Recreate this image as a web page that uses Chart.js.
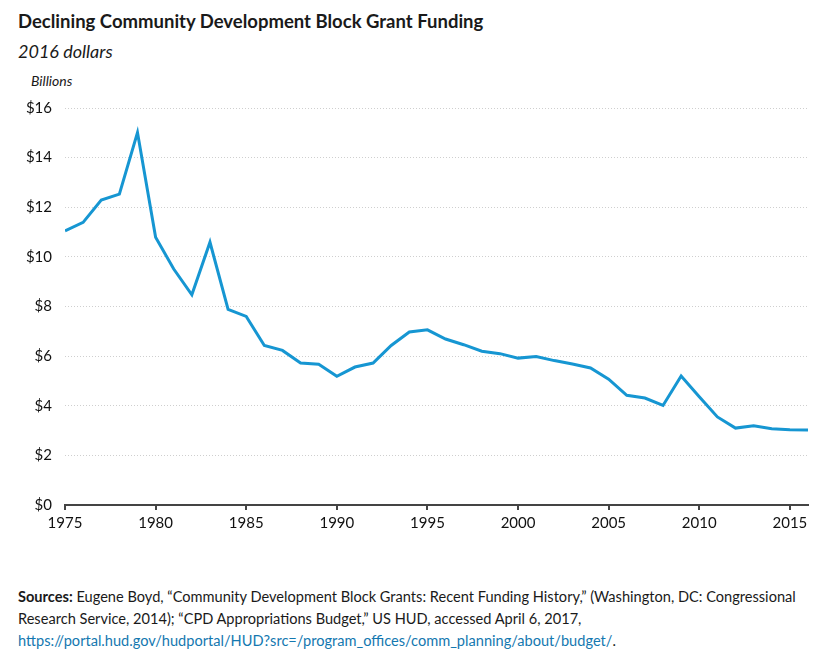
<!DOCTYPE html>
<html>
<head>
<meta charset="utf-8">
<script src="https://cdn.jsdelivr.net/npm/chart.js@4"></script>
<style>
  body { margin: 0; background: #fff; font-family: Lato, "Open Sans", sans-serif; color: #1a1a1a; }
  #wrap { position: relative; width: 840px; height: 666px; }
  .title { position: absolute; left: 18px; top: 10px; font-size: 18.5px; font-weight: bold; }
  .sub { position: absolute; left: 18px; top: 40px; font-size: 18px; font-style: italic; }
  .unit { position: absolute; left: 31px; top: 72px; font-size: 14px; font-style: italic; }
  #box { position: absolute; left: 0; top: 86px; width: 840px; height: 464px; }
  .src { position: absolute; left: 18px; top: 586px; width: 810px; font-size: 14.6px; line-height: 22px; }
  .src a { color: #1478b0; text-decoration: none; }
</style>
</head>
<body>
<div id="wrap">
  <div class="title">Declining Community Development Block Grant Funding</div>
  <div class="sub">2016 dollars</div>
  <div class="unit">Billions</div>
  <div id="box"><canvas id="chart"></canvas></div>
  <div class="src"><b>Sources:</b> Eugene Boyd, “Community Development Block Grants: Recent Funding History,” (Washington, DC: Congressional<br>Research Service, 2014); “CPD Appropriations Budget,” US HUD, accessed April 6, 2017,<br><a>https://portal.hud.gov/hudportal/HUD?src=/program_offices/comm_planning/about/budget/</a>.</div>
</div>
<script>
// Années et financement (milliards de dollars 2016)
const years = [1975, 1976, 1977, 1978, 1979, 1980, 1981, 1982, 1983, 1984,
  1985, 1986, 1987, 1988, 1989, 1990, 1991, 1992, 1993, 1994,
  1995, 1996, 1997, 1998, 1999, 2000, 2001, 2002, 2003, 2004,
  2005, 2006, 2007, 2008, 2009, 2010, 2011, 2012, 2013, 2014,
  2015, 2016];
const funding = [11.05, 11.39, 12.29, 12.53, 15.01, 10.79, 9.51, 8.47, 10.59, 7.88,
  7.60, 6.43, 6.23, 5.72, 5.67, 5.19, 5.56, 5.72, 6.43, 6.97,
  7.06, 6.69, 6.46, 6.20, 6.10, 5.92, 5.98, 5.82, 5.68, 5.52,
  5.07, 4.42, 4.31, 4.01, 5.20, 4.36, 3.55, 3.10, 3.19, 3.07,
  3.03, 3.02];
const yTicks = [0, 2, 4, 6, 8, 10, 12, 14, 16];
const xTicks = [1975, 1980, 1985, 1990, 1995, 2000, 2005, 2010, 2015];

const tickFont = { family: "Lato", size: 15 };

new Chart(document.getElementById("chart"), {
  type: "line",
  data: {
    datasets: [{
      data: years.map((y, i) => ({ x: y, y: funding[i] })),
      borderColor: "#1696d2",
      borderWidth: 3,
      pointRadius: 0,
      tension: 0,
      fill: false
    }]
  },
  options: {
    responsive: true,
    maintainAspectRatio: false,
    animation: false,
    layout: { padding: { top: 3, right: 32, left: 0, bottom: 0 } },
    plugins: { legend: { display: false }, tooltip: { enabled: false } },
    scales: {
      x: {
        type: "linear",
        min: 1975,
        max: 2016,
        afterBuildTicks: s => { s.ticks = xTicks.map(v => ({ value: v })); },
        afterFit: s => { s.height = 45; },
        ticks: { font: tickFont, color: "#111", padding: 4, callback: v => String(v) },
        grid: { drawOnChartArea: false, tickLength: 5, color: "#444", lineWidth: 2 },
        border: { color: "#444", width: 2 }
      },
      y: {
        min: 0,
        max: 16,
        afterBuildTicks: s => { s.ticks = yTicks.map(v => ({ value: v })); },
        afterFit: s => { s.width = 65; },
        ticks: { font: tickFont, color: "#111", padding: 13, callback: v => "$" + v },
        grid: { color: "#cfcfcf", lineWidth: 1, tickLength: 0 },
        border: { display: false, dash: [1, 2] }
      }
    }
  }
});
</script>
</body>
</html>
